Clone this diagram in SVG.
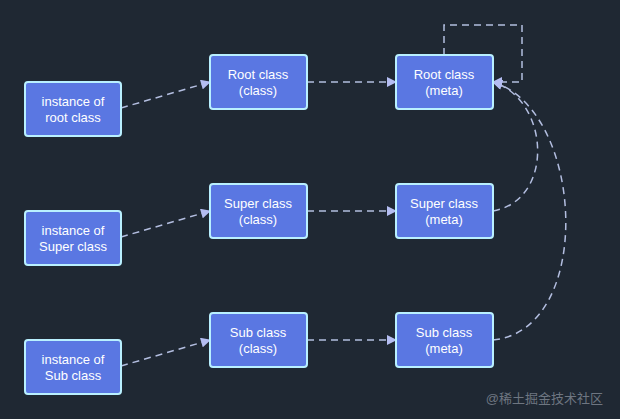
<svg xmlns="http://www.w3.org/2000/svg" width="620" height="419" viewBox="0 0 620 419">
<defs>
<marker id="arr" viewBox="0 0 10 10" refX="9" refY="5" markerWidth="11" markerHeight="10" markerUnits="userSpaceOnUse" orient="auto">
<path d="M0,0 L10,5 L0,10 z" fill="#b4bdf2"/>
</marker>
<style>
.box{fill:#5a77e2;stroke:#b9f0ff;stroke-width:2}
.t{font-family:"Liberation Sans",Arial,sans-serif;font-size:13px;fill:#ffffff;text-anchor:middle}
.e{fill:none;stroke:#b3bee0;stroke-width:1.5;stroke-dasharray:7 5}
</style>
</defs>
<rect width="620" height="419" fill="#1f2833"/>
<g id="edges">
<path class="e" d="M121,108 L210,82" marker-end="url(#arr)"/>
<path class="e" d="M121,237 L210,211" marker-end="url(#arr)"/>
<path class="e" d="M121,366 L210,340" marker-end="url(#arr)"/>
<path class="e" d="M307,82 L396,82" marker-end="url(#arr)"/>
<path class="e" d="M307,211 L396,211" marker-end="url(#arr)"/>
<path class="e" d="M307,340 L396,340" marker-end="url(#arr)"/>
<path class="e" d="M444,55 L444,25 L522,25 L522,82 L493,82" marker-end="url(#arr)"/>
<path class="e" d="M493,211 C555,200 550,100 493,82" marker-end="url(#arr)"/>
<path class="e" d="M493,340 C595,330 585,110 493,82" marker-end="url(#arr)"/>
</g>
<g id="inst_root"><rect class="box" x="25" y="82" width="96" height="54" rx="3"/><text class="t" x="73" y="106">instance of</text><text class="t" x="73" y="122">root class</text></g>
<g id="inst_super"><rect class="box" x="25" y="211" width="96" height="54" rx="3"/><text class="t" x="73" y="235">instance of</text><text class="t" x="73" y="251">Super class</text></g>
<g id="inst_sub"><rect class="box" x="25" y="340" width="96" height="54" rx="3"/><text class="t" x="73" y="364">instance of</text><text class="t" x="73" y="380">Sub class</text></g>
<g id="root_class"><rect class="box" x="210" y="55" width="97" height="54" rx="3"/><text class="t" x="258" y="79">Root class</text><text class="t" x="258" y="95">(class)</text></g>
<g id="super_class"><rect class="box" x="210" y="184" width="97" height="54" rx="3"/><text class="t" x="258" y="208">Super class</text><text class="t" x="258" y="224">(class)</text></g>
<g id="sub_class"><rect class="box" x="210" y="313" width="97" height="54" rx="3"/><text class="t" x="258" y="337">Sub class</text><text class="t" x="258" y="353">(class)</text></g>
<g id="root_meta"><rect class="box" x="396" y="55" width="97" height="54" rx="3"/><text class="t" x="444" y="79">Root class</text><text class="t" x="444" y="95">(meta)</text></g>
<g id="super_meta"><rect class="box" x="396" y="184" width="97" height="54" rx="3"/><text class="t" x="444" y="208">Super class</text><text class="t" x="444" y="224">(meta)</text></g>
<g id="sub_meta"><rect class="box" x="396" y="313" width="97" height="54" rx="3"/><text class="t" x="444" y="337">Sub class</text><text class="t" x="444" y="353">(meta)</text></g>
<text x="603" y="403" font-family="'Liberation Sans','Noto Sans CJK SC',sans-serif" font-size="13" fill="#6e7681" text-anchor="end">@稀土掘金技术社区</text>
</svg>
